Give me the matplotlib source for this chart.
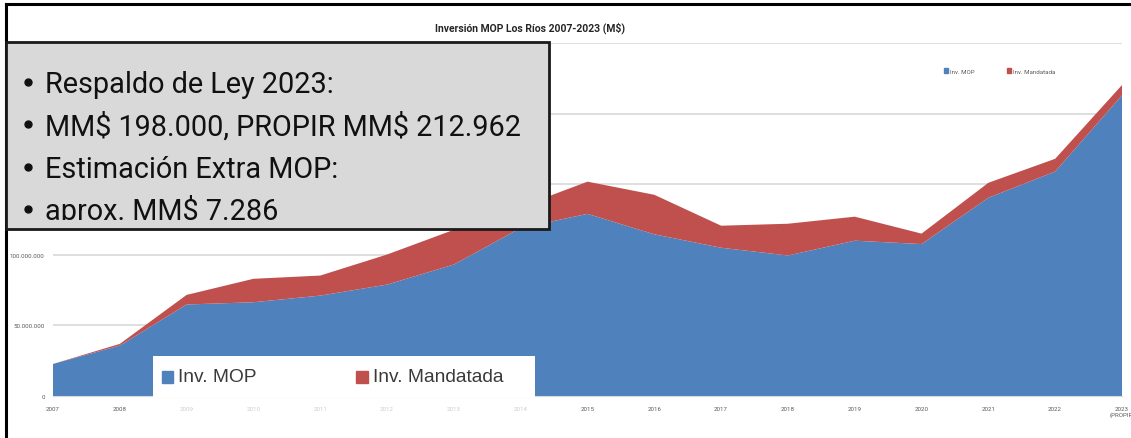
import numpy as np
import matplotlib
matplotlib.use("Agg")
import matplotlib.pyplot as plt
from matplotlib.patches import Rectangle
from matplotlib.ticker import FuncFormatter

# Inversion MOP Los Rios, pesos (M$)
years = list(range(2007, 2024))
year_labels = [str(y) for y in years]
year_labels[-1] = "2023\n(PROPIR)"
inv_mop = [22.7, 35.7, 64.8, 66.4, 71.1, 78.9, 93.1, 119.0, 129.0, 114.5,
           105.0, 99.5, 110.0, 107.6, 140.4, 159.0, 212.962]
inv_mandatada = [0.0, 1.2, 6.8, 16.6, 14.2, 21.3, 24.6, 15.0, 22.8, 28.0,
                 15.6, 22.5, 17.0, 7.4, 10.6, 9.0, 7.286]
inv_mop = np.array(inv_mop) * 1e6
inv_mandatada = np.array(inv_mandatada) * 1e6

box_lines = ["Respaldo de Ley 2023:",
             "MM$ 198.000, PROPIR MM$ 212.962",
             "Estimación Extra MOP:",
             "aprox. MM$ 7.286"]

blue = "#4F81BD"
red = "#C0504D"
plt.rcParams['text.parse_math'] = False
plt.rcParams['font.family'] = ["Roboto", "DejaVu Sans"]

W, H = 1131, 439
fig = plt.figure(figsize=(W / 100, H / 100), dpi=100)

def fx(px):
    return px / W

def fy(py):
    return 1 - py / H

ax = fig.add_axes([fx(53), fy(397), fx(1122) - fx(53), fy(44) - fy(397)])
ax.stackplot(years, inv_mop, inv_mandatada, colors=[blue, red],
             labels=["Inv. MOP", "Inv. Mandatada"], zorder=2)
ax.set_xlim(2007, 2023)
ax.set_ylim(0, 250e6)
ax.set_yticks(np.arange(0, 250e6 + 1, 50e6))
ax.yaxis.set_major_formatter(FuncFormatter(lambda v, p: f"{int(v):,}".replace(",", ".")))
ax.set_xticks(years)
ax.set_xticklabels(year_labels)
ax.grid(axis="y", color="#d9d9d9", linewidth=1.2, zorder=0)
for s in ["top", "right", "left"]:
    ax.spines[s].set_visible(False)
ax.spines["bottom"].set_color("#d9d9d9")
ax.tick_params(length=0, labelsize=4.4, labelcolor="#595959")
ax.tick_params(axis="y", pad=6)
ax.tick_params(axis="x", pad=7)
for lab in ax.get_xticklabels()[2:8]:
    lab.set_alpha(0.3)

# small excel legend
fig.patches.append(Rectangle((fx(944), fy(74)), 4 / W, 5 / H, color=blue, transform=fig.transFigure))
fig.text(fx(950), fy(72), "Inv. MOP", fontsize=4.4, color="#595959", va="center")
fig.patches.append(Rectangle((fx(1007), fy(74)), 4 / W, 5 / H, color=red, transform=fig.transFigure))
fig.text(fx(1013), fy(72), "Inv. Mandatada", fontsize=4.4, color="#595959", va="center")

fig.text(fx(530), fy(28), "Inversión MOP Los Ríos 2007-2023 (M$)", fontsize=7.5,
         fontweight="bold", color="#262626", ha="center", va="center")

# outer slide frame (top and left)
fig.add_artist(plt.Line2D([fx(6), 1], [fy(5), fy(5)], color="black", lw=2.2, transform=fig.transFigure))
fig.add_artist(plt.Line2D([fx(6), fx(6)], [fy(5), 0], color="black", lw=2.2, transform=fig.transFigure))

# big legend box pasted over the chart
fig.patches.append(Rectangle((fx(153), fy(398)), (535 - 153) / W, (398 - 357) / H,
                             facecolor="white", edgecolor="none", transform=fig.transFigure, zorder=5))
fig.patches.append(Rectangle((fx(162), fy(384)), 11 / W, 12 / H, color=blue,
                             transform=fig.transFigure, zorder=6))
fig.text(fx(178), fy(378), "Inv. MOP", fontsize=13.8, family=["Liberation Sans", "DejaVu Sans"],
         color="#3a3a3a", va="center", zorder=7)
fig.patches.append(Rectangle((fx(356), fy(384)), 12 / W, 12 / H, color=red,
                             transform=fig.transFigure, zorder=6))
fig.text(fx(373), fy(378), "Inv. Mandatada", fontsize=13.8, family=["Liberation Sans", "DejaVu Sans"],
         color="#3a3a3a", va="center", zorder=7)

# gray text box
box = Rectangle((fx(6), fy(230)), (549 - 6) / W, (230 - 43) / H, facecolor="#d9d9d9",
                edgecolor="#1a1a1a", linewidth=2, transform=fig.transFigure, zorder=8)
fig.patches.append(box)
clip = Rectangle((fx(6), fy(221)), (549 - 6) / W, (221 - 43) / H, transform=fig.transFigure)
for i, line in enumerate(box_lines):
    base = 93 + i * 42.3
    bullet = plt.Line2D([fx(28)], [fy(base - 10)], marker="o", markersize=5,
                        color="#111111", transform=fig.transFigure, zorder=9)
    fig.add_artist(bullet)
    bullet.set_clip_path(clip)
    t = fig.text(fx(45), fy(base), line, fontsize=20.8, color="#111111",
                 va="baseline", zorder=9)
    t.set_clip_path(clip)

fig.savefig("out.png", dpi=100)
